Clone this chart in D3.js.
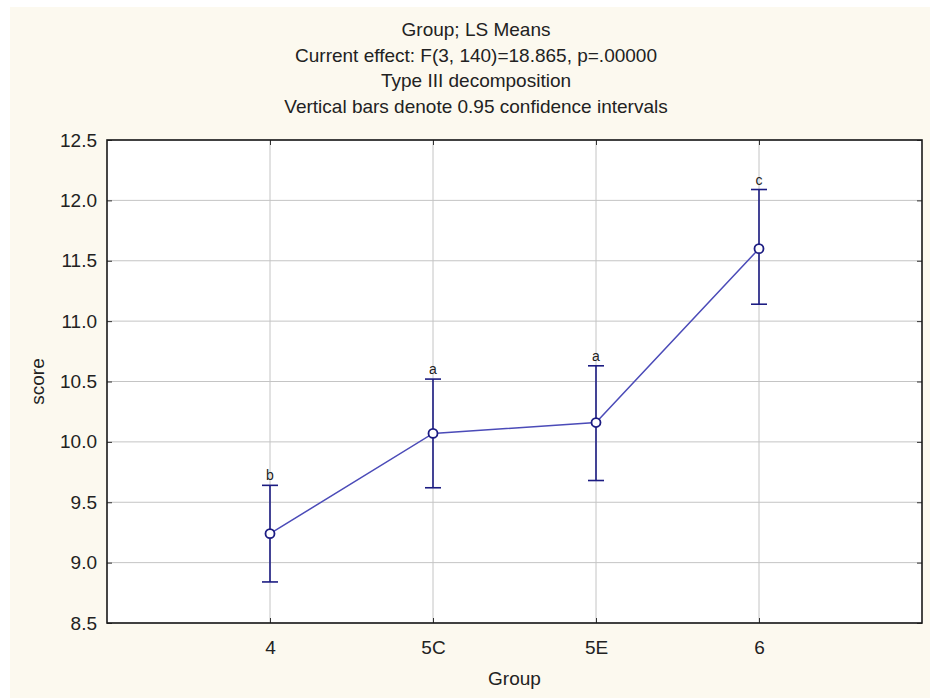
<!DOCTYPE html>
<html>
<head>
<meta charset="utf-8">
<script src="https://cdn.jsdelivr.net/npm/d3@7"></script>
<style>
  body { margin: 0; background: #fff; }
  text { font-family: "Liberation Sans", Arial, sans-serif; fill: #222; }
</style>
</head>
<body>
<script>
const w = 930;
const h = 700;

const groups = ["4", "5C", "5E", "6"];
const means = [9.24, 10.07, 10.16, 11.6];
const lower = [8.84, 9.62, 9.68, 11.14];
const upper = [9.64, 10.52, 10.63, 12.09];
const letters = ["b", "a", "a", "c"];
const yTicks = [8.5, 9.0, 9.5, 10.0, 10.5, 11.0, 11.5, 12.0, 12.5];
const titleLines = [
  "Group; LS Means",
  "Current effect: F(3, 140)=18.865, p=.00000",
  "Type III decomposition",
  "Vertical bars denote 0.95 confidence intervals"
];

const data = groups.map((g, i) => ({
  group: g, mean: means[i], lo: lower[i], hi: upper[i], letter: letters[i]
}));

const m = { top: 140, right: 8, bottom: 77, left: 107 };

const svg = d3.select("body").append("svg")
  .attr("width", w)
  .attr("height", h);

// cream panel
svg.append("rect")
  .attr("x", 10).attr("y", 7)
  .attr("width", w - 10).attr("height", h - 9)
  .attr("fill", "#fcf9ef");

const x = d3.scalePoint()
  .domain(groups)
  .range([m.left, w - m.right])
  .padding(1);

const y = d3.scaleLinear()
  .domain([8.5, 12.5])
  .range([h - m.bottom, m.top]);

// plot area
svg.append("rect")
  .attr("x", m.left).attr("y", m.top)
  .attr("width", w - m.right - m.left)
  .attr("height", h - m.bottom - m.top)
  .attr("fill", "#fff");

// grid
svg.append("g")
  .selectAll("line.h")
  .data(yTicks)
  .join("line")
  .attr("x1", m.left).attr("x2", w - m.right)
  .attr("y1", d => y(d)).attr("y2", d => y(d))
  .attr("stroke", "#c4c4c4");

svg.append("g")
  .selectAll("line.v")
  .data(groups)
  .join("line")
  .attr("x1", d => x(d)).attr("x2", d => x(d))
  .attr("y1", m.top).attr("y2", h - m.bottom)
  .attr("stroke", "#c4c4c4");

// axes with inner ticks
const yAxis = d3.axisLeft(y).tickValues(yTicks).tickFormat(d3.format(".1f"))
  .tickSizeInner(-5).tickSizeOuter(0).tickPadding(10);
const gy = svg.append("g")
  .attr("transform", `translate(${m.left},0)`)
  .call(yAxis);
gy.select(".domain").remove();
gy.selectAll("line").attr("stroke", "#333");
gy.selectAll("text").style("font-size", "19px").attr("fill", "#222")
  .attr("font-family", "Liberation Sans, Arial, sans-serif");

const gyr = svg.append("g")
  .attr("transform", `translate(${w - m.right},0)`)
  .call(d3.axisRight(y).tickValues(yTicks).tickFormat("").tickSizeInner(-5).tickSizeOuter(0));
gyr.select(".domain").remove();
gyr.selectAll("line").attr("stroke", "#333");

const xAxis = d3.axisBottom(x).tickSizeInner(-5).tickSizeOuter(0).tickPadding(18);
const gx = svg.append("g")
  .attr("transform", `translate(0,${h - m.bottom})`)
  .call(xAxis);
gx.select(".domain").remove();
gx.selectAll("line").attr("stroke", "#333");
gx.selectAll("text").style("font-size", "19px").attr("fill", "#222")
  .attr("font-family", "Liberation Sans, Arial, sans-serif");

const gxt = svg.append("g")
  .attr("transform", `translate(0,${m.top})`)
  .call(d3.axisTop(x).tickFormat("").tickSizeInner(-5).tickSizeOuter(0));
gxt.select(".domain").remove();
gxt.selectAll("line").attr("stroke", "#333");

// frame
svg.append("rect")
  .attr("x", m.left).attr("y", m.top)
  .attr("width", w - m.right - m.left)
  .attr("height", h - m.bottom - m.top)
  .attr("fill", "none")
  .attr("stroke", "#1a1a1a")
  .attr("stroke-width", 1.6);

// connecting line
svg.append("path")
  .datum(data)
  .attr("fill", "none")
  .attr("stroke", "#4b4bb8")
  .attr("stroke-width", 1.5)
  .attr("d", d3.line().x(d => x(d.group)).y(d => y(d.mean)));

// error bars
const eb = svg.append("g").selectAll("g").data(data).join("g")
  .attr("stroke", "#1c1c82")
  .attr("stroke-width", 1.6);
eb.append("line")
  .attr("x1", d => x(d.group)).attr("x2", d => x(d.group))
  .attr("y1", d => y(d.lo)).attr("y2", d => y(d.hi));
eb.append("line")
  .attr("x1", d => x(d.group) - 8).attr("x2", d => x(d.group) + 8)
  .attr("y1", d => y(d.hi)).attr("y2", d => y(d.hi));
eb.append("line")
  .attr("x1", d => x(d.group) - 8).attr("x2", d => x(d.group) + 8)
  .attr("y1", d => y(d.lo)).attr("y2", d => y(d.lo));

// markers
svg.append("g").selectAll("circle").data(data).join("circle")
  .attr("cx", d => x(d.group))
  .attr("cy", d => y(d.mean))
  .attr("r", 4.5)
  .attr("fill", "#fff")
  .attr("stroke", "#1c1c82")
  .attr("stroke-width", 1.8);

// letters
svg.append("g").selectAll("text").data(data).join("text")
  .attr("x", d => x(d.group))
  .attr("y", d => y(d.hi) - 5)
  .attr("text-anchor", "middle")
  .style("font-size", "14px")
  .text(d => d.letter);

// titles
svg.append("g").selectAll("text").data(titleLines).join("text")
  .attr("x", 476)
  .attr("y", (d, i) => 36 + i * 25.5)
  .attr("text-anchor", "middle")
  .style("font-size", "19px")
  .text(d => d);

svg.append("text")
  .attr("x", (m.left + w - m.right) / 2)
  .attr("y", 685)
  .attr("text-anchor", "middle")
  .style("font-size", "19px")
  .text("Group");

svg.append("text")
  .attr("transform", `translate(44,${(m.top + h - m.bottom) / 2}) rotate(-90)`)
  .attr("text-anchor", "middle")
  .style("font-size", "19px")
  .text("score");
</script>
</body>
</html>
